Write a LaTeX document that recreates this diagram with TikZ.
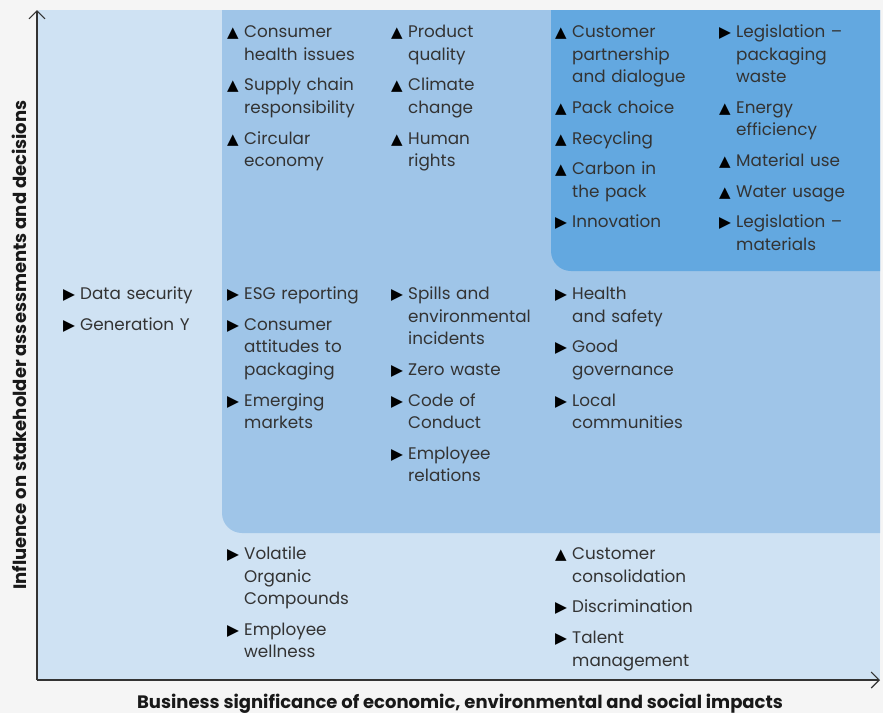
\documentclass[tikz,border=0pt]{standalone}
\usepackage{fontspec}
\setmainfont{Poppins}
\newfontfamily\symfont{DejaVu Sans}
\usetikzlibrary{arrows.meta}

\definecolor{pagegray}{HTML}{F5F5F5}
\definecolor{lowblue}{HTML}{CFE2F3}
\definecolor{midblue}{HTML}{9FC5E8}
\definecolor{highblue}{HTML}{63A8E0}
\definecolor{inkgray}{HTML}{333333}
\definecolor{axisgray}{HTML}{333333}

\newcommand{\upm}{{\color{black}\symfont\fontsize{15}{15}\selectfont ▲}}
\newcommand{\rtm}{{\color{black}\symfont\fontsize{15.5}{15}\selectfont ▶}}
\newcommand{\itm}[2]{\par\hangindent=17pt\hangafter=1\noindent\strut\makebox[17pt][l]{#1}#2\par}

\begin{document}
\begin{tikzpicture}[x=1pt, y=-1pt,
    lst/.style={anchor=north west, inner sep=0pt, text width=160pt,
                align=left, text=inkgray,
                font={\fontsize{16.8}{22.5}\selectfont\setlength\parskip{8.2pt}}},
    axlab/.style={inner sep=0pt, anchor=base, text=black!90,
                  font=\bfseries\fontsize{18}{22}\selectfont},
    axarr/.style={draw=axisgray, line width=1.1pt,
                  -{Straight Barb[length=8pt,width=16pt]}},
  ]
  \useasboundingbox (0,0) rectangle (883,713);
  \fill[pagegray] (0,0) rectangle (883,713);

  % zones of the matrix
  \fill[lowblue] (38,10) rectangle (880,680);
  \begin{scope}
    \clip (38,10) rectangle (880,680);
    \fill[midblue, rounded corners=20pt] (222,-30) rectangle (920,533);
    \fill[highblue, rounded corners=20pt] (551,-30) rectangle (920,271);
  \end{scope}

  % axes
  \coordinate (O) at (37,680);
  \coordinate (ytop) at (37,10);
  \coordinate (xend) at (880,680);
  \draw[axarr] (O) -- (ytop);
  \draw[axarr] (O) -- (xend);
  \node[axlab, rotate=90] (ylab) at (26,345) {Influence on stakeholder assessments and decisions};
  \node[axlab] (xlab) at (460,708) {Business significance of economic, environmental and social impacts};

  % high influence row
  \node[lst] (hi1) at (227,6.75) {%
    \itm{\upm}{Consumer\newline health issues}
    \itm{\upm}{Supply chain\newline responsibility}
    \itm{\upm}{Circular\newline economy}};
  \node[lst] (hi2) at (391,6.75) {%
    \itm{\upm}{Product\newline quality}
    \itm{\upm}{Climate\newline change}
    \itm{\upm}{Human\newline rights}};
  \node[lst] (hi3) at (555,6.75) {%
    \itm{\upm}{Customer\newline partnership\newline and dialogue}
    \itm{\upm}{Pack choice}
    \itm{\upm}{Recycling}
    \itm{\upm}{Carbon in\newline the pack}
    \itm{\rtm}{Innovation}};
  \node[lst] (hi4) at (719,6.75) {%
    \itm{\rtm}{Legislation –\newline packaging\newline waste}
    \itm{\upm}{Energy\newline efficiency}
    \itm{\upm}{Material use}
    \itm{\upm}{Water usage}
    \itm{\rtm}{Legislation –\newline materials}};

  % medium influence row
  \node[lst] (mid0) at (63,268.75) {%
    \itm{\rtm}{Data security}
    \itm{\rtm}{Generation Y}};
  \node[lst] (mid1) at (227,268.75) {%
    \itm{\rtm}{ESG reporting}
    \itm{\rtm}{Consumer\newline attitudes to\newline packaging}
    \itm{\rtm}{Emerging\newline markets}};
  \node[lst] (mid2) at (391,268.75) {%
    \itm{\rtm}{Spills and\newline environmental\newline incidents}
    \itm{\rtm}{Zero waste}
    \itm{\rtm}{Code of\newline Conduct}
    \itm{\rtm}{Employee\newline relations}};
  \node[lst] (mid3) at (555,268.75) {%
    \itm{\rtm}{Health\newline and safety}
    \itm{\rtm}{Good\newline governance}
    \itm{\rtm}{Local\newline communities}};

  % low influence row
  \node[lst] (lo1) at (227,528.75) {%
    \itm{\rtm}{Volatile\newline Organic\newline Compounds}
    \itm{\rtm}{Employee\newline wellness}};
  \node[lst] (lo3) at (555,528.75) {%
    \itm{\upm}{Customer\newline consolidation}
    \itm{\rtm}{Discrimination}
    \itm{\rtm}{Talent\newline management}};
\end{tikzpicture}
\end{document}
